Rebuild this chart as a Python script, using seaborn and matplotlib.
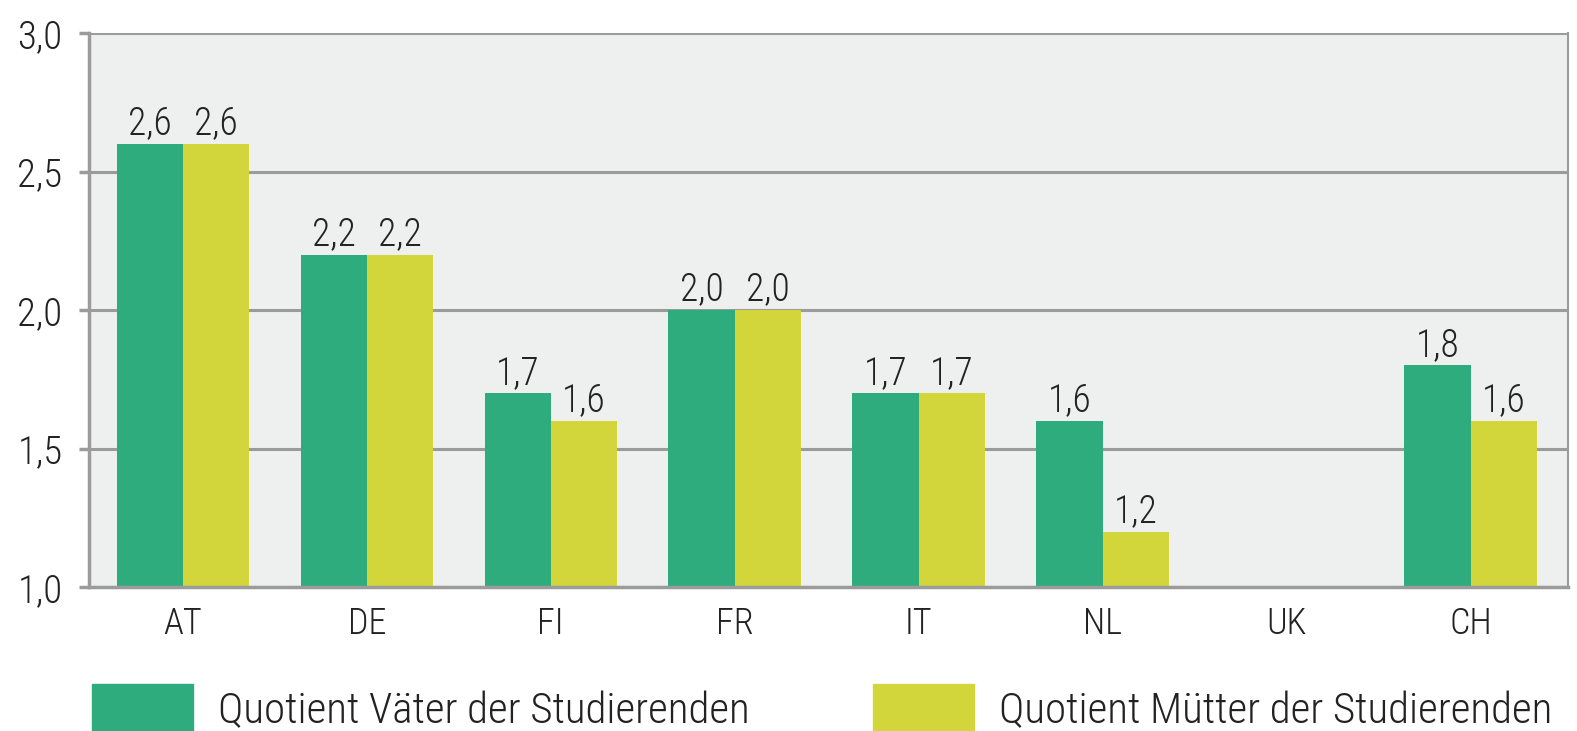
import numpy as np
import pandas as pd
import matplotlib
matplotlib.use("Agg")
import matplotlib.pyplot as plt
import seaborn as sns

# Werte aus der Grafik
laender = ['AT', 'DE', 'FI', 'FR', 'IT', 'NL', 'UK', 'CH']
vaeter = [2.6, 2.2, 1.7, 2.0, 1.7, 1.6, np.nan, 1.8]
muetter = [2.6, 2.2, 1.6, 2.0, 1.7, 1.2, np.nan, 1.6]
serien = ['Quotient Väter der Studierenden', 'Quotient Mütter der Studierenden']
farben = ['#2fac7d', '#d3d63a']

df = pd.DataFrame({
    'land': laender * 2,
    'wert': vaeter + muetter,
    'gruppe': [serien[0]] * len(laender) + [serien[1]] * len(laender),
})

sns.set_style('white')
plt.rcParams['font.family'] = ['Roboto Condensed', 'DejaVu Sans']
plt.rcParams['font.weight'] = 'light'

W, H = 1577, 731
fig = plt.figure(figsize=(W / 100, H / 100), dpi=100)
ax = fig.add_axes([89 / W, 1 - 587 / H, (1568 - 89) / W, (587 - 33) / H])
ax.set_facecolor('#eef0f0')

sns.barplot(data=df, x='land', y='wert', hue='gruppe', order=laender,
            hue_order=serien, palette=farben, width=0.72, saturation=1,
            errorbar=None, ax=ax, legend=False, linewidth=0)

# Werte über den Balken mit Dezimalkomma
for cont in ax.containers:
    labels = ['' if np.isnan(v) else f'{v:.1f}'.replace('.', ',') for v in cont.datavalues]
    ax.bar_label(cont, labels=labels, padding=1, fontsize=27, color='#222222')

ax.set_ylim(1.0, 3.0)
ax.set_xlim(-0.51, 7.53)
ax.set_yticks([1.0, 1.5, 2.0, 2.5, 3.0])
ax.set_yticklabels(['1,0', '1,5', '2,0', '2,5', '3,0'])
ax.yaxis.grid(True, color='#9b9b9b', linewidth=2.2)
ax.set_axisbelow(True)
ax.set_xlabel('')
ax.set_ylabel('')

for s in ['left', 'bottom']:
    ax.spines[s].set_color('#9b9b9b')
    ax.spines[s].set_linewidth(2.5)
ax.spines['right'].set_color('#9b9b9b')
ax.spines['right'].set_linewidth(1.5)
ax.spines['top'].set_visible(False)

ax.tick_params(axis='y', length=7, width=2.5, color='#9b9b9b', pad=12,
               labelsize=28, labelcolor='#222222', left=True)
ax.tick_params(axis='x', length=0, pad=14, labelsize=26, labelcolor='#222222')

# Legende unten, zwei Einträge an festen Positionen
for i, (name, farbe, x0) in enumerate(zip(serien, farben, [92, 873])):
    h = plt.Rectangle((0, 0), 1, 1, color=farbe)
    fig.legend([h], [name], loc='upper left', bbox_to_anchor=(x0 / W, 1 - 684 / H),
               frameon=False, fontsize=31, handlelength=2.35, handleheight=1.4,
               handletextpad=0.58, borderpad=0, borderaxespad=0, labelcolor='#222222')

fig.savefig('out.png', dpi=100)
